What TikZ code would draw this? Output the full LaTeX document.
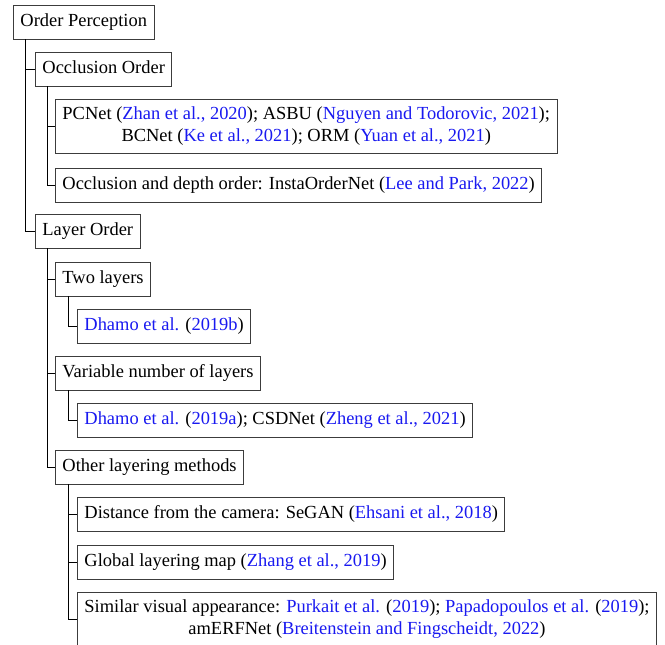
\documentclass[tikz,border=0pt]{standalone}
\usepackage{fontspec}
\setmainfont{Liberation Serif}
\definecolor{citeblue}{RGB}{25,25,240}
\definecolor{boxline}{RGB}{60,60,60}
\newcommand{\cit}[1]{\textcolor{citeblue}{#1}}
\tikzset{
  basebox/.style={draw=boxline, line width=0.9pt, anchor=north west,
    inner xsep=7pt, inner ysep=0pt, font=\fontsize{18.45}{22}\selectfont},
  onebox/.style={basebox, minimum height=33.5pt, text height=12.5pt, text depth=4pt},
  twobox/.style={basebox, minimum height=54pt, align=center},
  branch/.style={draw=black, line width=0.9pt}
}
\begin{document}
\begin{tikzpicture}[x=1pt,y=1pt]
\useasboundingbox (0,0) rectangle (665,-645);
\clip (0,0) rectangle (665,-645);

% categories and methods
\node[onebox] (root) at (13,-5) {Order Perception};
\node[onebox] (occ) at (35,-52) {Occlusion Order};
\node[twobox] (occa) at (55,-99) {PCNet (\cit{Zhan et al., 2020}); ASBU (\cit{Nguyen and Todorovic, 2021});\\BCNet (\cit{Ke et al., 2021}); ORM (\cit{Yuan et al., 2021})};
\node[onebox] (occb) at (55,-168) {Occlusion and depth order: InstaOrderNet (\cit{Lee and Park, 2022})};
\node[onebox] (lay) at (35,-214) {Layer Order};
\node[onebox] (two) at (55,-262) {Two layers};
\node[onebox] (twoa) at (77,-309) {\cit{Dhamo et al.} (\cit{2019b})};
\node[onebox] (var) at (55,-356) {Variable number of layers};
\node[onebox] (vara) at (77,-403) {\cit{Dhamo et al.} (\cit{2019a}); CSDNet (\cit{Zheng et al., 2021})};
\node[onebox] (oth) at (55,-450) {Other layering methods};
\node[onebox] (otha) at (77,-497) {Distance from the camera: SeGAN (\cit{Ehsani et al., 2018})};
\node[onebox] (othb) at (77,-545) {Global layering map (\cit{Zhang et al., 2019})};
\node[twobox] (othc) at (77,-592) {Similar visual appearance: \cit{Purkait et al.} (\cit{2019}); \cit{Papadopoulos et al.} (\cit{2019});\\amERFNet (\cit{Breitenstein and Fingscheidt, 2022})};

% tree branches
\draw[branch] ([xshift=12pt]root.south west) |- (occ.west);
\draw[branch] ([xshift=12pt]root.south west) |- (lay.west);
\draw[branch] ([xshift=12pt]occ.south west) |- (occa.west);
\draw[branch] ([xshift=12pt]occ.south west) |- (occb.west);
\draw[branch] ([xshift=12pt]lay.south west) |- (two.west);
\draw[branch] ([xshift=12pt]lay.south west) |- (var.west);
\draw[branch] ([xshift=12pt]lay.south west) |- (oth.west);
\draw[branch] ([xshift=13pt]two.south west) |- (twoa.west);
\draw[branch] ([xshift=13pt]var.south west) |- (vara.west);
\draw[branch] ([xshift=13pt]oth.south west) |- (otha.west);
\draw[branch] ([xshift=13pt]oth.south west) |- (othb.west);
\draw[branch] ([xshift=13pt]oth.south west) |- (othc.west);
\end{tikzpicture}
\end{document}
